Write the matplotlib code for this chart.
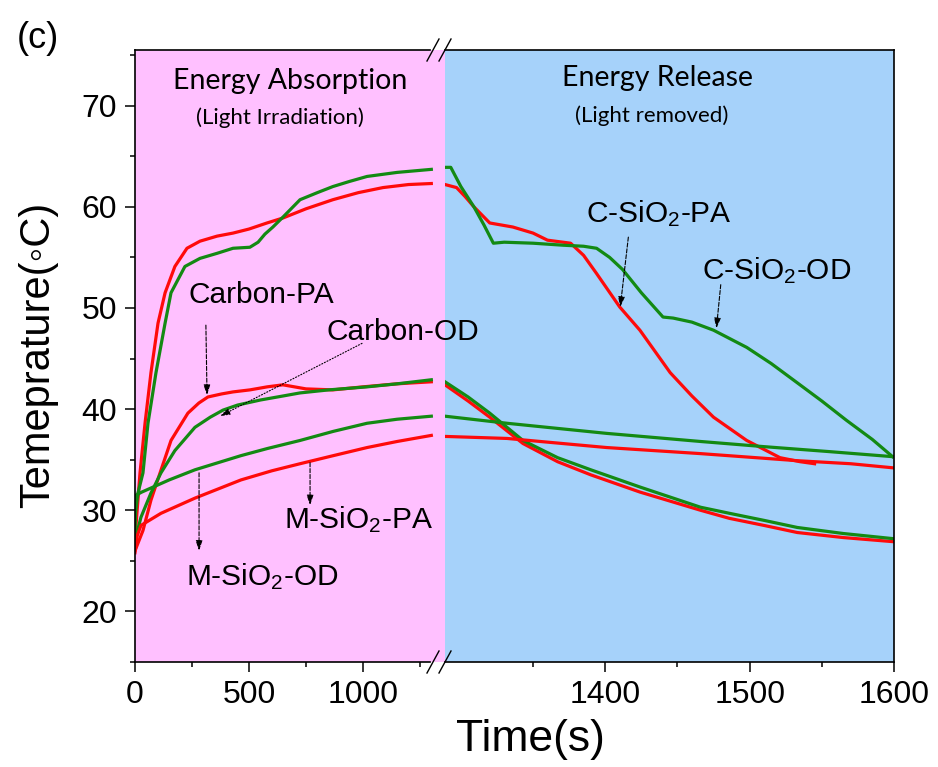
import matplotlib
matplotlib.use('Agg')
import matplotlib.pyplot as plt
from matplotlib.lines import Line2D

plt.rcParams['font.family'] = ['Liberation Sans', 'DejaVu Sans']
plt.rcParams['mathtext.fontset'] = 'custom'
plt.rcParams['mathtext.rm'] = 'Liberation Sans'
plt.rcParams['mathtext.it'] = 'Liberation Sans:italic'

# ---- left part (light on) ----
t_cpa_l = [0, 5, 22, 44, 70, 101, 132, 175, 228, 285, 360, 430, 500, 579, 650, 750, 868, 980, 1088, 1200, 1300]
v_cpa_l = [26.5, 28.7, 33.7, 38.6, 43.6, 48.5, 51.5, 54.1, 55.9, 56.6, 57.1, 57.4, 57.8, 58.4, 58.9, 59.8, 60.7,
           61.4, 61.9, 62.2, 62.3]
t_cod_l = [0, 13, 35, 57, 92, 132, 158, 219, 285, 360, 430, 504, 540, 570, 605, 650, 724, 800, 868, 940, 1018, 1150, 1300]
v_cod_l = [29.5, 31.7, 33.7, 38.6, 43.6, 48.5, 51.5, 54.1, 54.9, 55.4, 55.9, 56.0, 56.5, 57.3, 58.0, 59.0, 60.7,
           61.4, 62.0, 62.5, 63.0, 63.4, 63.7]
t_carpa_l = [0, 35, 70, 110, 158, 232, 280, 320, 380, 430, 504, 580, 649, 750, 868, 1000, 1150, 1300]
v_carpa_l = [26, 28, 31, 33.7, 36.9, 39.6, 40.6, 41.2, 41.5, 41.7, 41.9, 42.2, 42.4, 42.0, 41.9, 42.2, 42.5, 42.7]
t_carod_l = [0, 26, 70, 114, 175, 263, 330, 386, 450, 550, 650, 724, 850, 1018, 1150, 1300]
v_carod_l = [27, 29.3, 31.7, 33.7, 35.9, 38.2, 39.2, 39.9, 40.4, 40.9, 41.3, 41.6, 41.9, 42.2, 42.5, 42.9]
t_mod_l = [0, 5, 30, 70, 150, 263, 465, 580, 724, 870, 1018, 1150, 1300]
v_mod_l = [28, 31.5, 31.8, 32.2, 33, 34, 35.4, 36.1, 36.9, 37.8, 38.6, 39.0, 39.3]
t_mpa_l = [0, 10, 26, 114, 263, 465, 600, 724, 870, 1018, 1150, 1300]
v_mpa_l = [25.8, 27.5, 28.5, 29.7, 31.2, 33, 33.9, 34.6, 35.4, 36.2, 36.8, 37.4]

# ---- right part (light removed) ----
t_cod_r = [1289, 1293, 1300, 1309, 1316, 1322.5, 1330, 1350, 1371, 1385, 1394, 1403, 1412, 1425, 1440, 1447, 1460,
           1475, 1498, 1515, 1533, 1550, 1567, 1585, 1599]
v_cod_r = [63.9, 63.9, 62.0, 60.0, 58.2, 56.4, 56.5, 56.4, 56.2, 56.1, 55.9, 55.0, 53.8, 51.5, 49.1, 49.0, 48.6,
           47.8, 46.1, 44.5, 42.6, 40.8, 38.9, 37.0, 35.3]
t_cpa_r = [1289, 1297, 1303, 1309, 1320, 1336, 1350, 1360, 1376, 1385, 1394, 1410, 1424, 1445, 1460, 1475, 1498,
           1521, 1535, 1545]
v_cpa_r = [62.2, 61.9, 61.0, 60.0, 58.4, 58.0, 57.4, 56.7, 56.4, 55.2, 53.4, 50.1, 47.8, 43.6, 41.3, 39.2, 36.9,
           35.2, 34.8, 34.6]
t_mod_r = [1289, 1332, 1401, 1466, 1509, 1555, 1599]
v_mod_r = [39.3, 38.6, 37.6, 36.8, 36.3, 35.8, 35.3]
t_mpa_r = [1289, 1332, 1401, 1466, 1533, 1570, 1599]
v_mpa_r = [37.3, 37.1, 36.2, 35.6, 34.9, 34.6, 34.2]
t_car_r = [1289, 1305, 1320, 1343, 1367, 1390, 1424, 1466, 1486, 1510, 1533, 1565, 1599]
v_carod_r = [42.7, 41.2, 39.6, 36.9, 35.2, 34.0, 32.3, 30.3, 29.7, 29.0, 28.3, 27.7, 27.2]
v_carpa_r = [42.4, 40.8, 39.2, 36.6, 34.8, 33.5, 31.8, 30.0, 29.2, 28.5, 27.8, 27.3, 26.9]

RED = '#ff0a0a'
GREEN = '#138a13'
lw = 2.3

W, H = 938, 767
fig = plt.figure(figsize=(W / 100, H / 100), dpi=100)
x0, x1, x2 = 135, 445, 894
ytop, ybot = 50, 662
ax1 = fig.add_axes([x0 / W, 1 - ybot / H, (x1 - x0) / W, (ybot - ytop) / H])
ax2 = fig.add_axes([x1 / W, 1 - ybot / H, (x2 - x1) / W, (ybot - ytop) / H], sharey=ax1)
ax1.set_facecolor('#ffc0ff')
ax2.set_facecolor('#a6d2fa')

ax1.plot(t_cpa_l, v_cpa_l, color=RED, lw=lw)
ax1.plot(t_cod_l, v_cod_l, color=GREEN, lw=lw)
ax1.plot(t_carpa_l, v_carpa_l, color=RED, lw=lw)
ax1.plot(t_carod_l, v_carod_l, color=GREEN, lw=lw)
ax1.plot(t_mod_l, v_mod_l, color=GREEN, lw=lw)
ax1.plot(t_mpa_l, v_mpa_l, color=RED, lw=lw)

ax2.plot(t_cpa_r, v_cpa_r, color=RED, lw=lw)
ax2.plot(t_cod_r, v_cod_r, color=GREEN, lw=lw)
ax2.plot(t_car_r, v_carpa_r, color=RED, lw=lw)
ax2.plot(t_car_r, v_carod_r, color=GREEN, lw=lw)
ax2.plot(t_mod_r, v_mod_r, color=GREEN, lw=lw)
ax2.plot(t_mpa_r, v_mpa_r, color=RED, lw=lw)

ax1.set_xlim(0, 1360)
ax2.set_xlim(1289, 1600)
ax1.set_ylim(15, 75.5)
ax1.set_xticks([0, 500, 1000])
ax1.set_xticks([250, 750, 1250], minor=True)
ax2.set_xticks([1400, 1500, 1600])
ax2.set_xticks([1350, 1450, 1550], minor=True)
ax1.set_yticks([20, 30, 40, 50, 60, 70])
ax1.set_yticks([15, 25, 35, 45, 55, 65, 75], minor=True)

for ax in (ax1, ax2):
    ax.tick_params(which='major', length=7, width=1.1, labelsize=23, pad=6, direction='out')
    ax.tick_params(which='minor', length=3.5, width=1.1, direction='out')
    for s in ax.spines.values():
        s.set_linewidth(1.2)
ax2.tick_params(axis='y', which='both', left=False, labelleft=False)
ax1.spines['right'].set_visible(False)
ax2.spines['left'].set_visible(False)
ax1.spines['top'].set_bounds(0, 1295)
ax1.spines['bottom'].set_bounds(0, 1295)

# break marks
for yb in (ytop, ybot):
    for cx in (433, 445):
        fig.add_artist(Line2D([(cx - 6) / W, (cx + 6) / W], [1 - (yb + 11) / H, 1 - (yb - 11) / H],
                              color='black', lw=1.0))

# panel texts
tfont = ['Lato', 'DejaVu Sans']
ax2.text(680, 71.6, 'Energy Absorption', transform=ax1.transData, ha='center', va='baseline',
         fontsize=20.5, family=tfont)
ax2.text(636, 68.2, '(Light Irradiation)', transform=ax1.transData, ha='center', va='baseline',
         fontsize=16, family=tfont)
ax2.text(1436, 71.9, 'Energy Release', ha='center', va='baseline', fontsize=20.5, family=tfont)
ax2.text(1432, 68.4, '(Light removed)', ha='center', va='baseline', fontsize=16, family=tfont)

# curve labels and arrows
lfs = 21.5
ax2.text(553, 50.5, 'Carbon-PA', transform=ax1.transData, ha='center', va='baseline', fontsize=lfs)
ax2.text(1175, 46.8, 'Carbon-OD', transform=ax1.transData, ha='center', va='baseline', fontsize=lfs)
ax2.text(982, 28.2, r'M-SiO$_\mathregular{2}$-PA', transform=ax1.transData, ha='center', va='baseline', fontsize=lfs)
ax2.text(557, 22.6, r'M-SiO$_\mathregular{2}$-OD', transform=ax1.transData, ha='center', va='baseline', fontsize=lfs)
ax2.text(1437, 58.5, r'C-SiO$_\mathregular{2}$-PA', ha='center', va='baseline', fontsize=lfs)
ax2.text(1519, 52.8, r'C-SiO$_\mathregular{2}$-OD', ha='center', va='baseline', fontsize=lfs)

def arrow(ax, start, end, ls='--'):
    ax.annotate('', xy=end, xytext=start,
                arrowprops=dict(arrowstyle='-|>,head_length=0.6,head_width=0.2', color='black',
                                lw=0.8, linestyle=ls, shrinkA=0, shrinkB=0))

arrow(ax1, (311, 48.3), (316, 41.4))
arrow(ax1, (996, 46.5), (373, 39.3), ls=':')
arrow(ax1, (281, 33.7), (281, 26.0))
arrow(ax1, (768, 34.7), (768, 30.5))
arrow(ax2, (1416, 57.0), (1410.4, 50.1))
arrow(ax2, (1480, 52.3), (1477, 48.0))

fig.text(38 / W, 1 - 39 / H, '(c)', fontsize=26, ha='center', va='center')
fig.text(38 / W, 1 - 355 / H, 'Temeprature(\u25e6C)', fontsize=30, rotation=90, ha='center', va='center')
fig.text(530 / W, 1 - 740 / H, 'Time(s)', fontsize=32, ha='center', va='center')

fig.savefig('out.png', dpi=100)
